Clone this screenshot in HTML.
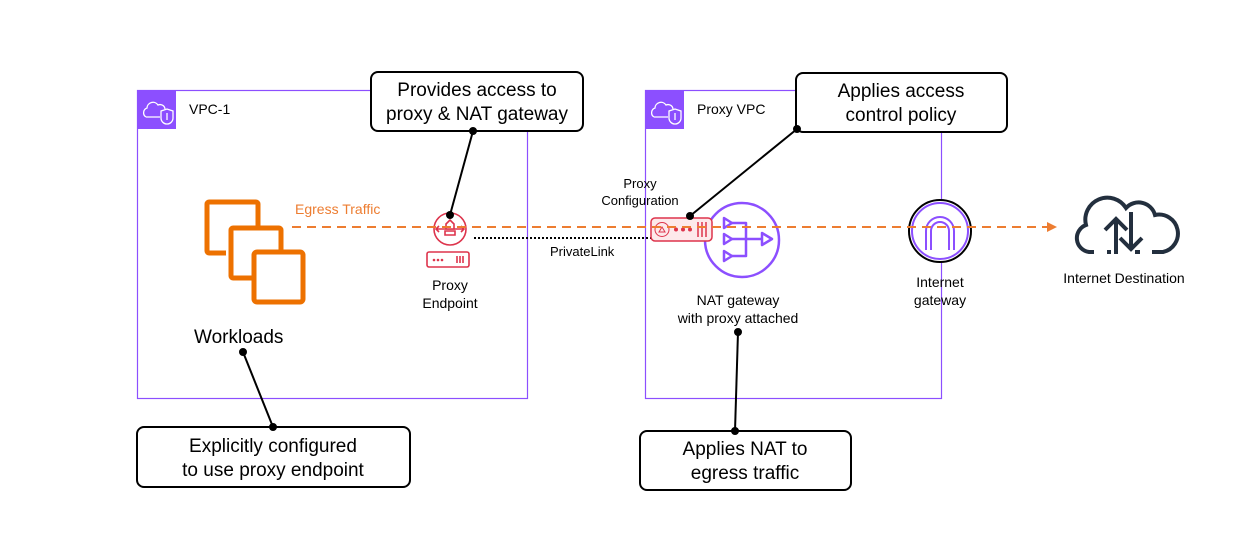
<!DOCTYPE html>
<html><head><meta charset="utf-8"><style>
html,body{margin:0;padding:0;background:#fff;}
svg{display:block;font-family:"Liberation Sans",Arial,sans-serif;}
</style></head><body>
<svg width="1233" height="560" viewBox="0 0 1233 560" xmlns="http://www.w3.org/2000/svg">
<rect width="1233" height="560" fill="#fff"/>
<!-- VPC boxes -->
<rect x="137.5" y="90.5" width="390" height="308" fill="none" stroke="#8c4fff" stroke-width="1.2"/>
<rect x="137" y="90" width="39" height="39" fill="#8c4fff"/>
<g fill="none" stroke="#fff" stroke-width="1.3">
<path d="M146 117 h14 M146 117 a5 5 0 0 1 1-9 a6 6 0 0 1 11-3 a5 5 0 0 1 7 4"/>
<path d="M161 111 l6-2 l6 2 v7 a6 6 0 0 1-6 6 a6 6 0 0 1-6-6z"/>
<line x1="167" y1="113" x2="167" y2="120"/>
</g>
<text x="189" y="114" font-size="14" fill="#000">VPC-1</text>

<rect x="645.5" y="90.5" width="296" height="308" fill="none" stroke="#8c4fff" stroke-width="1.2"/>
<rect x="645" y="90" width="39" height="39" fill="#8c4fff"/>
<g fill="none" stroke="#fff" stroke-width="1.3">
<path d="M654 117 h14 M654 117 a5 5 0 0 1 1-9 a6 6 0 0 1 11-3 a5 5 0 0 1 7 4"/>
<path d="M669 111 l6-2 l6 2 v7 a6 6 0 0 1-6 6 a6 6 0 0 1-6-6z"/>
<line x1="675" y1="113" x2="675" y2="120"/>
</g>
<text x="697" y="114" font-size="14" fill="#000">Proxy VPC</text>

<!-- workloads icon -->
<g fill="#fff" stroke="#ed7100" stroke-width="5" stroke-linejoin="round">
<path d="M226 253 h-17 a2 2 0 0 1-2-2 v-47 a2 2 0 0 1 2-2 h47 a2 2 0 0 1 2 2 v22"/>
<path d="M252 278 h-19 a2 2 0 0 1-2-2 v-46 a2 2 0 0 1 2-2 h46 a2 2 0 0 1 2 2 v22"/>
<rect x="254" y="252" width="49" height="50" rx="3"/>
</g>
<text x="194" y="343" font-size="19" fill="#000">Workloads</text>

<!-- private link dotted -->
<line x1="474" y1="238" x2="652" y2="238" stroke="#000" stroke-width="2" stroke-dasharray="2,2"/>
<text x="550" y="256" font-size="13" fill="#000">PrivateLink</text>

<!-- proxy endpoint icon -->
<g fill="none" stroke="#dd344c" stroke-width="1.6">
<circle cx="450" cy="229" r="16" fill="#fff"/>
<path d="M436 229 h28 M439 226 l-3 3 l3 3 M461 226 l3 3 l-3 3"/>
<path d="M446 224 l4-4 l4 4 v5 h-8z M445 231 h10 v4 h-10z" fill="#fff"/>
<rect x="427" y="252" width="42" height="15" rx="2"/>
<path d="M457 256 v7 M460 256 v7 M463 256 v7"/>
</g>
<g fill="#dd344c"><circle cx="434" cy="260" r="1.3"/><circle cx="438" cy="260" r="1.3"/><circle cx="442" cy="260" r="1.3"/></g>
<text x="450" y="290" font-size="14" text-anchor="middle" fill="#000">Proxy</text>
<text x="450" y="308" font-size="14" text-anchor="middle" fill="#000">Endpoint</text>

<!-- proxy configuration -->
<text x="640" y="188" font-size="13" text-anchor="middle" fill="#000">Proxy</text>
<text x="640" y="205" font-size="13" text-anchor="middle" fill="#000">Configuration</text>

<!-- NAT -->
<circle cx="742" cy="240" r="37" fill="#fff" stroke="#8c4fff" stroke-width="2.5"/>
<g fill="none" stroke="#8c4fff" stroke-width="2.5" stroke-linejoin="round">
<path d="M724 218 l8 5 l-8 5z M724 234 l8 5 l-8 5z M724 251 l8 5 l-8 5z"/>
<path d="M732 223 h14 v33 h-14 M732 239 h30"/>
<path d="M762 233 l10 6 l-10 6z"/>
</g>
<rect x="651" y="218" width="61" height="23" rx="4" fill="#fde9eb" stroke="#dd344c" stroke-width="1.5"/>
<circle cx="662" cy="229.5" r="7" fill="none" stroke="#dd344c" stroke-width="1"/>
<path d="M659 232 l3-5 l3 5z" fill="none" stroke="#dd344c" stroke-width="1"/>
<g fill="#dd344c"><circle cx="676" cy="229.5" r="2"/><circle cx="683" cy="229.5" r="2"/><circle cx="690" cy="229.5" r="2"/></g>
<path d="M698 222 v15 M702 222 v15 M706 222 v15" stroke="#dd344c" stroke-width="1.5"/>
<text x="738" y="305" font-size="14" text-anchor="middle" fill="#000">NAT gateway</text>
<text x="738" y="323" font-size="14" text-anchor="middle" fill="#000">with proxy attached</text>

<!-- IGW -->
<circle cx="940" cy="231" r="31" fill="#fff" stroke="#000" stroke-width="2"/>
<circle cx="940" cy="231" r="28" fill="none" stroke="#8c4fff" stroke-width="2"/>
<path d="M926 250 v-19 a14 14 0 0 1 28 0 v19 M931 250 v-19 a9 9 0 0 1 18 0 v19" fill="none" stroke="#8c4fff" stroke-width="2"/>
<text x="940" y="287" font-size="14" text-anchor="middle" fill="#000">Internet</text>
<text x="940" y="305" font-size="14" text-anchor="middle" fill="#000">gateway</text>

<!-- egress (on top of icons) -->
<text x="295" y="214" font-size="14" fill="#ed7d31">Egress Traffic</text>
<line x1="292" y1="227" x2="1048" y2="227" stroke="#ed7d31" stroke-width="2" stroke-dasharray="9,6"/>
<path d="M1047 222 L1057 227 L1047 232 z" fill="#ed7d31"/>

<!-- cloud -->
<g fill="none" stroke="#232f3e" stroke-width="4" stroke-linecap="butt">
<path d="M1094 252 h-5 a14 14 0 0 1-3-27 a22 22 0 0 1 40-17 a17 17 0 0 1 29 7 a18 18 0 0 1 8 37 h-11"/>
<path d="M1107 252 h4 M1135 252 h5"/>
<path d="M1116 254 v-34 M1105 230 l11-11 l11 11"/>
<path d="M1131 212 v37 M1120 238 l11 11 l11-11"/>
</g>
<text x="1124" y="283" font-size="14" text-anchor="middle" fill="#000">Internet Destination</text>

<!-- callouts -->
<g fill="#fff" stroke="#000" stroke-width="2">
<rect x="371" y="72" width="212" height="59" rx="7"/>
<rect x="796" y="73" width="211" height="59" rx="7"/>
<rect x="137" y="427" width="273" height="60" rx="7"/>
<rect x="640" y="431" width="211" height="59" rx="7"/>
</g>
<g font-size="19" text-anchor="middle" fill="#000">
<text x="477" y="96">Provides access to</text>
<text x="477" y="120">proxy &amp; NAT gateway</text>
<text x="901" y="97">Applies access</text>
<text x="901" y="121">control policy</text>
<text x="273" y="452">Explicitly configured</text>
<text x="273" y="476">to use proxy endpoint</text>
<text x="745" y="455">Applies NAT to</text>
<text x="745" y="479">egress traffic</text>
</g>

<!-- connectors -->
<g stroke="#000" stroke-width="2" fill="#000">
<line x1="473" y1="131" x2="450" y2="215"/><circle cx="473" cy="131" r="3"/><circle cx="450" cy="215" r="3"/>
<line x1="797" y1="129" x2="690" y2="216"/><circle cx="797" cy="129" r="3"/><circle cx="690" cy="216" r="3"/>
<line x1="243" y1="352" x2="273" y2="427"/><circle cx="243" cy="352" r="3"/><circle cx="273" cy="427" r="3"/>
<line x1="738" y1="332" x2="735" y2="431"/><circle cx="738" cy="332" r="3"/><circle cx="735" cy="431" r="3"/>
</g>
</svg>
</body></html>
